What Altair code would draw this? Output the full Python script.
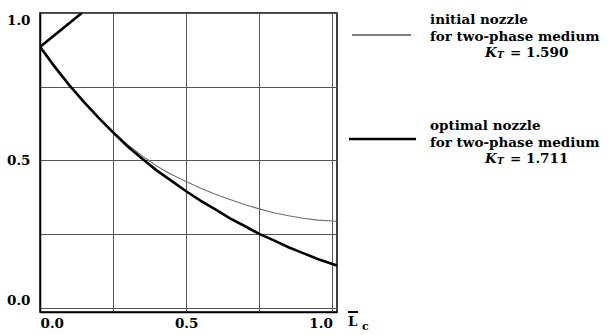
import altair as alt
import pandas as pd

# ---- data ----
x_pts = [0.143, 0.0, 0.05, 0.10, 0.15, 0.20, 0.25, 0.30, 0.35, 0.40, 0.45, 0.50,
         0.55, 0.60, 0.65, 0.70, 0.75, 0.80, 0.85, 0.90, 0.95, 1.00, 1.016]
initial_y = [1.0, 0.885, 0.820, 0.757, 0.700, 0.645, 0.597, 0.553, 0.515, 0.480, 0.452, 0.428,
             0.405, 0.385, 0.367, 0.350, 0.335, 0.322, 0.312, 0.303, 0.297, 0.294, 0.293]
optimal_y = [1.0, 0.885, 0.818, 0.755, 0.698, 0.645, 0.595, 0.547, 0.505, 0.465, 0.430, 0.395,
             0.362, 0.333, 0.303, 0.277, 0.250, 0.228, 0.205, 0.185, 0.165, 0.148, 0.143]
series_names = ["initial", "optimal"]
tick_values = [0.0, 0.25, 0.5, 0.75, 1.0]
legend_lines = [
    ["initial nozzle", "for two-phase medium", "1.590"],
    ["optimal nozzle", "for two-phase medium", "1.711"],
]

rows = []
for name, ys in zip(series_names, [initial_y, optimal_y]):
    for i, (xv, yv) in enumerate(zip(x_pts, ys)):
        rows.append({"x": xv, "y": yv, "series": name, "order": i})
df = pd.DataFrame(rows)

FONT = "DejaVu Serif"
FS = 13.5
W, H = 297, 299

label_expr = "datum.value == 0 ? '0.0' : datum.value == 0.5 ? '0.5' : datum.value == 1 ? '1.0' : ''"

curves = alt.Chart(df).mark_line(clip=True).encode(
    x=alt.X("x:Q", scale=alt.Scale(domain=[0, 1.016], nice=False, zero=False),
            axis=alt.Axis(values=tick_values, grid=True, ticks=False, title=None,
                          labelExpr=label_expr, labelFlush=8, labelPadding=4,
                          labelFont=FONT, labelFontSize=FS, labelFontWeight="bold",
                          labelColor="black", domainColor="black", domainWidth=1.5,
                          gridColor="#555555", gridWidth=1, gridOpacity=1)),
    y=alt.Y("y:Q", scale=alt.Scale(domain=[-0.015, 1.0], nice=False, zero=False),
            axis=alt.Axis(values=tick_values, grid=True, ticks=False, title=None,
                          labelExpr=label_expr, labelFlush=8, labelPadding=10,
                          labelFont=FONT, labelFontSize=FS, labelFontWeight="bold",
                          labelColor="black", domainColor="black", domainWidth=1.5,
                          gridColor="#555555", gridWidth=1, gridOpacity=1)),
    color=alt.Color("series:N", scale=alt.Scale(domain=series_names, range=["#6f6f6f", "#000000"]), legend=None),
    strokeWidth=alt.StrokeWidth("series:N", scale=alt.Scale(domain=series_names, range=[1.1, 2.6]), legend=None),
    detail="series:N",
    order="order:Q",
)

one = alt.Data(values=[{"a": 1}])
OX, OY = 40, 13  # plot origin in page pixels


def px(v):
    return alt.value(v - OX)


def py(v):
    return alt.value(v - OY)


layers = [curves]

# legend sample lines
layers.append(alt.Chart(one).mark_rule(color="black", strokeWidth=1).encode(
    x=px(352), x2=px(411), y=py(35)))
layers.append(alt.Chart(one).mark_rule(color="black", strokeWidth=2.5).encode(
    x=px(349), x2=px(416), y=py(139)))

text_style = dict(font=FONT, fontSize=FS, fontWeight="bold", color="black", baseline="middle")
for (l1, l2, kval), y0 in zip(legend_lines, [20, 126]):
    layers.append(alt.Chart(one).mark_text(align="left", **text_style).encode(
        x=px(430), y=py(y0), text=alt.value(l1)))
    layers.append(alt.Chart(one).mark_text(align="left", **text_style).encode(
        x=px(430), y=py(y0 + 16.5), text=alt.value(l2)))
    layers.append(alt.Chart(one).mark_text(align="left", font=FONT, fontSize=FS, fontWeight="bold",
                                           fontStyle="italic", color="black", baseline="middle").encode(
        x=px(485), y=py(y0 + 33), text=alt.value("K")))
    layers.append(alt.Chart(one).mark_text(align="left", font=FONT, fontSize=9, fontWeight="bold",
                                           fontStyle="italic", color="black", baseline="middle").encode(
        x=px(497), y=py(y0 + 35), text=alt.value("T")))
    layers.append(alt.Chart(one).mark_text(align="left", **text_style).encode(
        x=px(510), y=py(y0 + 33), text=alt.value("= " + kval)))

# axis title: L with overline and subscript c
layers.append(alt.Chart(one).mark_text(align="left", **text_style).encode(
    x=px(348), y=py(322), text=alt.value("L")))
layers.append(alt.Chart(one).mark_rule(color="black", strokeWidth=2).encode(
    x=px(348), x2=px(358), y=py(312)))
layers.append(alt.Chart(one).mark_text(align="left", font=FONT, fontSize=11, fontWeight="bold",
                                       color="black", baseline="middle").encode(
    x=px(362), y=py(327), text=alt.value("c")))

chart = alt.layer(*layers).properties(
    width=W, height=H,
    autosize=alt.AutoSizeParams(type="none"),
    padding={"left": OX, "top": OY, "right": 614 - OX - W, "bottom": 335 - OY - H},
    background="white",
).configure_view(stroke="black", strokeWidth=1.5)

chart.save("out.html", embed_options={"renderer": "svg", "actions": False})
